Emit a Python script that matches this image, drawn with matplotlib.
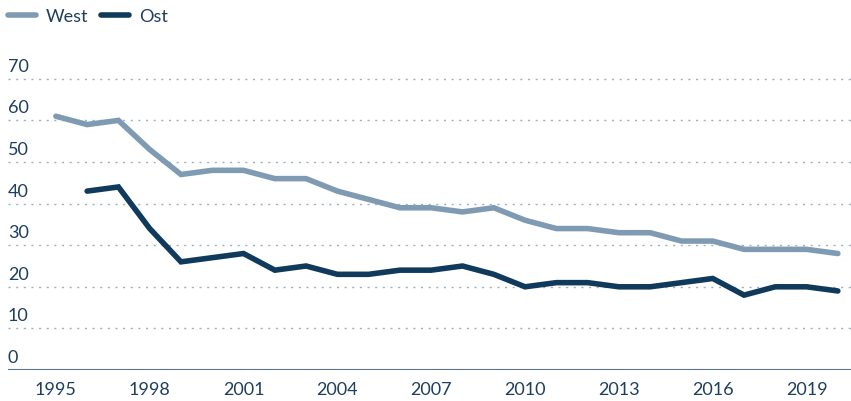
import numpy as np
import matplotlib.pyplot as plt

years = np.arange(1995, 2021)
west = [61, 59, 60, 53, 47, 48, 48, 46, 46, 43, 41, 39, 39, 38, 39, 36,
        34, 34, 33, 33, 31, 31, 29, 29, 29, 28]
ost_years = np.arange(1996, 2021)
ost = [43, 44, 34, 26, 27, 28, 24, 25, 23, 23, 24, 24, 25, 23, 20,
       21, 21, 20, 20, 21, 22, 18, 20, 20, 19]
yticks = [0, 10, 20, 30, 40, 50, 60, 70]
xticks = [1995, 1998, 2001, 2004, 2007, 2010, 2013, 2016, 2019]

text_col = '#1d3f5e'
west_col = '#7f9bb3'
ost_col = '#0f3a5c'

plt.rcParams['font.family'] = ['Lato', 'DejaVu Sans']

fig = plt.figure(figsize=(8.51, 4.02), dpi=100)
ax = fig.add_axes([8 / 851, 1 - 371 / 402, 843 / 851, (371 - 59) / 402])

ax.plot(years, west, color=west_col, lw=4, solid_capstyle='round',
        solid_joinstyle='miter', label='West')
ax.plot(ost_years, ost, color=ost_col, lw=4, solid_capstyle='round',
        solid_joinstyle='miter', label='Ost')

ax.set_xlim(1993.47, 2020.42)
ax.set_ylim(0, 75)

# dotted grid lines with labels sitting above them
for v in yticks[1:]:
    ax.axhline(v, color='#9fb0bf', lw=1, ls=(0, (1.5, 4)), zorder=0)
for v in yticks:
    ax.text(0.0, v + 1.2, str(v), transform=ax.get_yaxis_transform(),
            ha='left', va='bottom', fontsize=13, color=text_col)
ax.axhline(0, color='#5b7187', lw=1.5)

ax.set_yticks([])
ax.set_xticks(xticks)
ax.set_xticklabels([str(x) for x in xticks])
ax.tick_params(axis='x', length=0, pad=8, labelsize=13, labelcolor=text_col)
for s in ax.spines.values():
    s.set_visible(False)

ax.legend(loc='upper left', bbox_to_anchor=(0.0, 1 + 50 / 312), ncol=2,
          frameon=False, fontsize=13, labelcolor=text_col, handlelength=1.55,
          handletextpad=0.55, columnspacing=0.7, borderaxespad=0, borderpad=0)

fig.savefig('out.png', dpi=100)
